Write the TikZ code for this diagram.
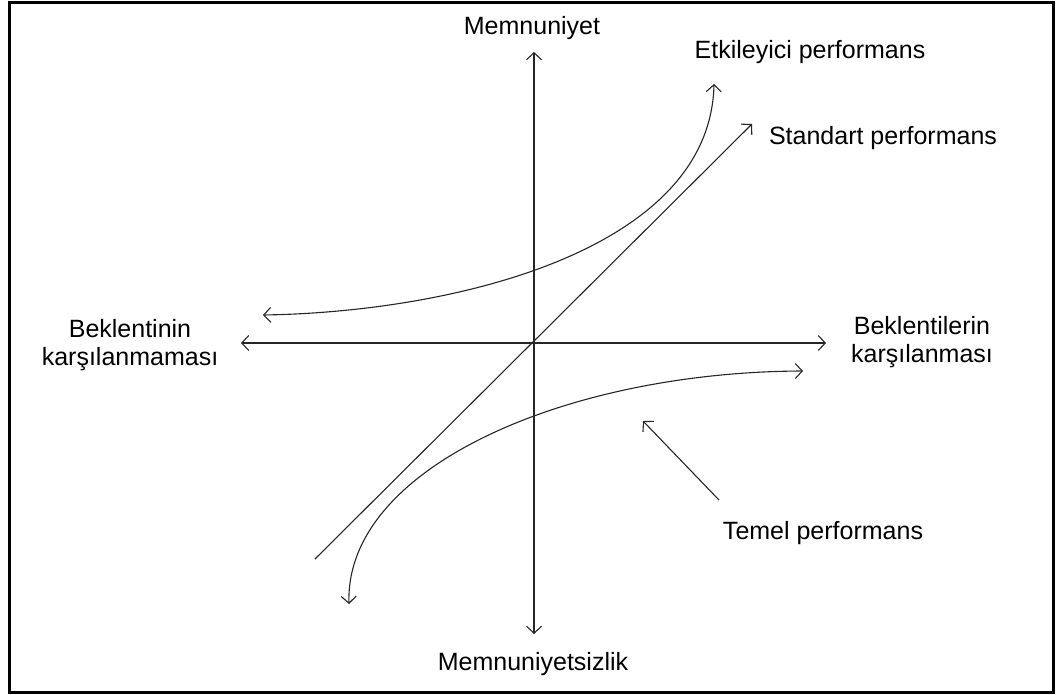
\documentclass[tikz,border=0pt]{standalone}
\usepackage{fontspec}
\setmainfont{Liberation Sans}
\usetikzlibrary{arrows.meta}
\begin{document}
\begin{tikzpicture}[x=1pt,y=-1pt,
  line/.style={line width=1.1pt,draw=black!85},
  arr/.style={line, -{Straight Barb[length=7pt,width=15pt,line width=1.1pt]}},
  darr/.style={line, {Straight Barb[length=7pt,width=15pt,line width=1.1pt]}-{Straight Barb[length=7pt,width=15pt,line width=1.1pt]}},
  lbl/.style={font=\fontsize{25}{28}\selectfont, inner sep=0pt, align=center}]
\useasboundingbox (0,0) rectangle (1056,695);
\draw[line width=3pt] (9.5,2.5) rectangle (1053.5,692.5);

% axes
\coordinate (top) at (534,52);
\coordinate (bottom) at (534,634);
\coordinate (left) at (241,343);
\coordinate (right) at (826,343);
\draw[darr] (bottom) -- (top);
\draw[darr] (left) -- (right);

% standard performance: straight line
\coordinate (s0) at (315,559);
\coordinate (s1) at (752,124);
\draw[arr] (s0) -- (s1);

% attractive performance curve
\coordinate (e0) at (263,315);
\coordinate (e1) at (714,84);
\draw[darr] (e0) .. controls (455,312) and (710,250) .. (e1);

% basic performance curve
\coordinate (b0) at (349,604);
\coordinate (b1) at (803,371);
\draw[darr] (b0) .. controls (345,468) and (565,372) .. (b1);

% pointer to the basic curve
\coordinate (t0) at (719,500);
\coordinate (t1) at (643,421);
\draw[arr] (t0) -- (t1);

% labels
\node[lbl] (memn) at (532,28) {Memnuniyet};
\node[lbl] (etk) at (810,52) {Etkileyici performans};
\node[lbl] (std) at (883,138) {Standart performans};
\node[lbl] (bkl) at (130,345) {Beklentinin\\karşılanmaması};
\node[lbl] (bkr) at (922,342) {Beklentilerin\\karşılanması};
\node[lbl] (tem) at (823,533) {Temel performans};
\node[lbl] (mns) at (533,664) {Memnuniyetsizlik};
\end{tikzpicture}
\end{document}
